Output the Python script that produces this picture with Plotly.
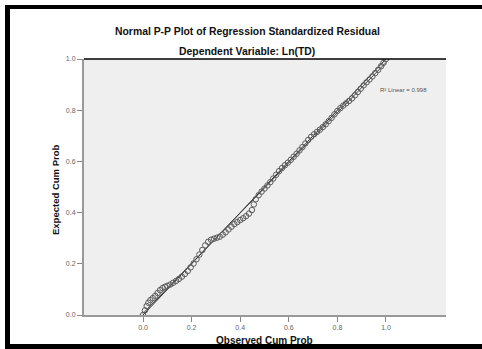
import numpy as np
import plotly.graph_objects as go

# Observed cumulative probability (x) and expected cumulative probability (y)
observed_cum_prob = [
    0.000, 0.008, 0.015, 0.022, 0.030, 0.040, 0.050, 0.060, 0.070, 0.080,
    0.090, 0.100, 0.112, 0.124, 0.136, 0.148, 0.160, 0.172, 0.184, 0.196,
    0.208, 0.220, 0.232, 0.244, 0.256, 0.268, 0.280, 0.292, 0.304, 0.316,
    0.328, 0.340, 0.352, 0.364, 0.376, 0.388, 0.400, 0.412, 0.424, 0.436,
    0.448, 0.456, 0.464, 0.476, 0.488, 0.500, 0.512, 0.524, 0.536, 0.548,
    0.560, 0.572, 0.584, 0.596, 0.608, 0.620, 0.632, 0.644, 0.656, 0.668,
    0.680, 0.692, 0.704, 0.716, 0.728, 0.740, 0.752, 0.764, 0.776, 0.788,
    0.800, 0.812, 0.824, 0.836, 0.848, 0.860, 0.872, 0.884, 0.896, 0.908,
    0.920, 0.932, 0.944, 0.956, 0.968, 0.980, 0.990, 1.000,
]
expected_cum_prob = [
    0.000, 0.018, 0.035, 0.048, 0.058, 0.066, 0.075, 0.086, 0.097, 0.105,
    0.110, 0.114, 0.119, 0.126, 0.133, 0.141, 0.150, 0.160, 0.172, 0.186,
    0.201, 0.218, 0.236, 0.254, 0.272, 0.286, 0.294, 0.298, 0.302, 0.306,
    0.314, 0.323, 0.334, 0.345, 0.355, 0.363, 0.371, 0.378, 0.386, 0.396,
    0.410, 0.432, 0.452, 0.468, 0.482, 0.494, 0.506, 0.519, 0.533, 0.548,
    0.562, 0.574, 0.585, 0.595, 0.606, 0.618, 0.630, 0.643, 0.656, 0.670,
    0.684, 0.696, 0.706, 0.715, 0.724, 0.734, 0.745, 0.757, 0.770, 0.784,
    0.797, 0.808, 0.818, 0.827, 0.836, 0.846, 0.858, 0.871, 0.884, 0.897,
    0.909, 0.920, 0.932, 0.945, 0.958, 0.972, 0.985, 1.000,
]
reference_line = [0.0, 1.0]
tick_values = [0.0, 0.2, 0.4, 0.6, 0.8, 1.0]
tick_labels = ["0.0", "0.2", "0.4", "0.6", "0.8", "1.0"]
r2_text = "R² Linear = 0.998"

W, H = 482, 349
L, R, T, B = 84, 446, 59, 315  # plot area in pixels


def px(x):
    return (x - L) / (R - L)


def py(y):
    return (B - y) / (B - T)


xs = np.array(observed_cum_prob)
ys = np.array(expected_cum_prob)
slope, intercept = np.polyfit(xs, ys, 1)
fit_x = np.array(reference_line)
fit_y = slope * fit_x + intercept

FONT = "Liberation Sans, Arial, sans-serif"

fig = go.Figure()
fig.add_trace(go.Scatter(
    x=reference_line, y=reference_line, mode="lines",
    line=dict(color="#222222", width=1), hoverinfo="skip", showlegend=False))
fig.add_trace(go.Scatter(
    x=fit_x, y=fit_y, mode="lines",
    line=dict(color="#444444", width=1), hoverinfo="skip", showlegend=False))
fig.add_trace(go.Scatter(
    x=observed_cum_prob, y=expected_cum_prob, mode="markers",
    marker=dict(symbol="circle-open", size=5.5, color="#5a5a5a",
                line=dict(width=1, color="#5a5a5a")),
    showlegend=False))

fig.update_layout(
    width=W, height=H,
    margin=dict(l=L, r=W - R, t=T, b=H - B, pad=0),
    paper_bgcolor="white", plot_bgcolor="#efefef",
    font=dict(family=FONT, color="#000000"),
    xaxis=dict(range=[-0.243, 1.247], tickvals=tick_values, ticktext=tick_labels,
               ticks="outside", ticklen=5, tickcolor="#888888", tickwidth=1,
               showgrid=False, zeroline=False, showline=True,
               linecolor="#999999", linewidth=2, automargin=False,
               tickfont=dict(size=7, color="#666666")),
    yaxis=dict(range=[0, 1], tickvals=tick_values, ticktext=tick_labels,
               ticks="outside", ticklen=5, tickcolor="#888888", tickwidth=1,
               showgrid=False, zeroline=False, showline=True,
               linecolor="#999999", linewidth=2, automargin=False,
               tickfont=dict(size=7, color="#666666")),
)

shapes = [
    # top border of plot area
    dict(type="line", xref="paper", yref="paper", x0=0, x1=1, y0=1, y1=1,
         line=dict(color="black", width=1.5)),
    # outer black frame pieces
    dict(type="rect", xref="paper", yref="paper", x0=px(5), x1=px(482),
         y0=py(9), y1=py(5), fillcolor="black", line=dict(width=0)),
    dict(type="rect", xref="paper", yref="paper", x0=px(5), x1=px(10),
         y0=py(349), y1=py(5), fillcolor="black", line=dict(width=0)),
    dict(type="rect", xref="paper", yref="paper", x0=px(5), x1=px(482),
         y0=py(349), y1=py(344), fillcolor="black", line=dict(width=0)),
]
fig.update_layout(shapes=shapes)

annotations = [
    dict(text="<b>Normal P-P Plot of Regression Standardized Residual</b>",
         xref="paper", yref="paper", x=px(247), y=py(31), showarrow=False,
         xanchor="center", yanchor="middle", font=dict(size=10.4, color="#111111")),
    dict(text="<b>Dependent Variable: Ln(TD)</b>",
         xref="paper", yref="paper", x=px(247), y=py(51), showarrow=False,
         xanchor="center", yanchor="middle", font=dict(size=10.4, color="#111111")),
    dict(text="<b>Expected Cum Prob</b>", textangle=-90,
         xref="paper", yref="paper", x=px(55), y=py(190), showarrow=False,
         xanchor="center", yanchor="middle", font=dict(size=9.5, color="#111111")),
    dict(text="<b>Observed Cum Prob</b>",
         xref="paper", yref="paper", x=px(264), y=py(340), showarrow=False,
         xanchor="center", yanchor="middle", font=dict(size=10, color="#111111")),
    dict(text=r2_text,
         xref="paper", yref="paper", x=px(378), y=py(90), showarrow=False,
         xanchor="left", yanchor="middle", font=dict(size=6, color="#555555")),
]
fig.update_layout(annotations=annotations)

fig.write_html(
    "out.html",
    config={"displayModeBar": False},
    post_script="document.body.style.margin='0';document.body.style.overflow='hidden';",
)
